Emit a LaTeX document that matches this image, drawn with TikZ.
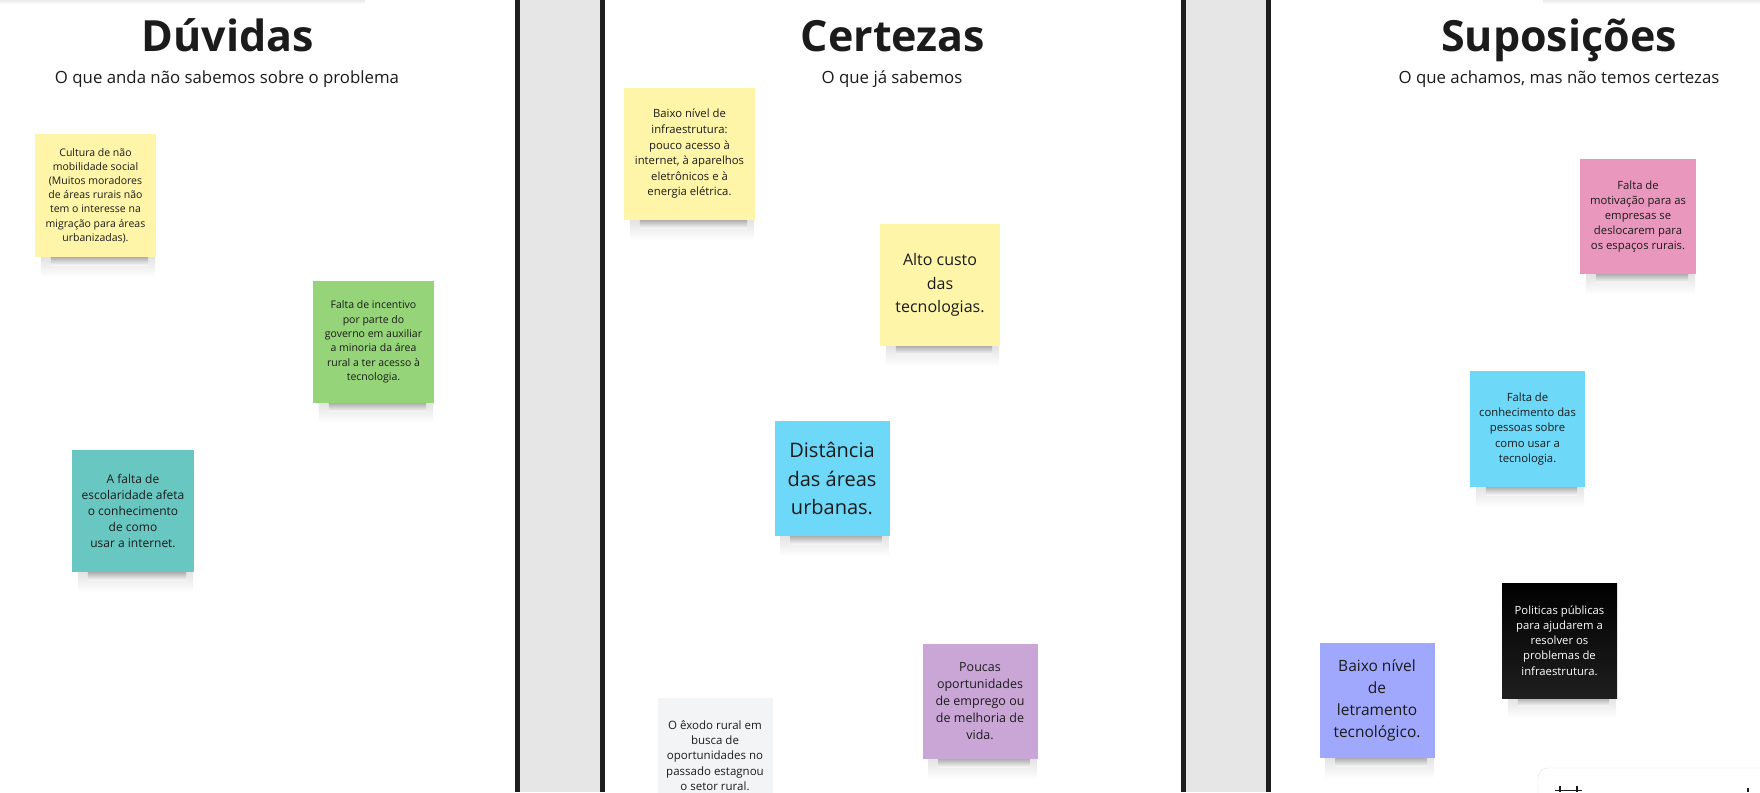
\documentclass[tikz,border=0pt]{standalone}
\usepackage{fontspec}
\setmainfont{Open Sans}
\usepackage{tikz}
\usetikzlibrary{backgrounds}

\definecolor{board}{HTML}{E6E6E6}
\definecolor{frame}{HTML}{1E1E1E}
\definecolor{ink}{HTML}{1B1B1B}
\definecolor{noteyellow}{HTML}{FEF5A8}
\definecolor{notegreen}{HTML}{95D478}
\definecolor{noteteal}{HTML}{69C7C1}
\definecolor{noteblue}{HTML}{6ED8F8}
\definecolor{notepurple}{HTML}{C9A6D6}
\definecolor{notegrey}{HTML}{F3F4F6}
\definecolor{notepink}{HTML}{EA97BD}
\definecolor{notelav}{HTML}{A0A8FE}

\begin{document}
\begin{tikzpicture}[x=1pt,y=-1pt,inner sep=0pt]
  \tikzstyle{note}=[rectangle,align=center,text=ink,minimum width=115,minimum height=115]
  \tikzstyle{title}=[anchor=base,text=ink,font=\fontsize{43}{50}\selectfont\bfseries]
  \tikzstyle{subtitle}=[anchor=base,text=ink,font=\fontsize{16.8}{20}\selectfont]
  \tikzstyle{small}=[font=\fontsize{11.3}{15.2}\selectfont]

  \useasboundingbox (0,0) rectangle (1760,792);

  % columns
  \fill[board] (520,0) rectangle (600,792);
  \fill[board] (1186,0) rectangle (1266,792);
  \foreach \x in {515,600,1181,1266}
    \fill[frame] (\x,0) rectangle (\x+5,792);
  \shade[top color=black!8,bottom color=white] (0,0) rectangle (365,4);
  \shade[top color=black!8,bottom color=white] (1543,0) rectangle (1760,4);

  % headers
  \node[title] (duv) at (228,52) {Dúvidas};
  \node[subtitle] (duvsub) at (227,83) {O que anda não sabemos sobre o problema};
  \node[title] (cert) at (893,52) {Certezas};
  \node[subtitle] (certsub) at (892,83) {O que já sabemos};
  \node[title] (sup) at (1559,52) {Suposições};
  \node[subtitle] (supsub) at (1559,83) {O que achamos, mas não temos certezas};

  % Duvidas
  \node[note,fill=noteyellow,minimum width=121,minimum height=123,font=\fontsize{10.5}{14.2}\selectfont]
    (cultura) at (95.5,195.5) {Cultura de não\\mobilidade social\\(Muitos moradores\\de áreas rurais não\\tem o interesse na\\migração para áreas\\urbanizadas).};
  \node[note,fill=notegreen,minimum width=121,minimum height=122,font=\fontsize{10.5}{14.3}\selectfont]
    (incentivo) at (373.5,342) {Falta de incentivo\\por parte do\\governo em auxiliar\\a minoria da área\\rural a ter acesso à\\tecnologia.};
  \node[note,fill=noteteal,minimum width=122,minimum height=122,font=\fontsize{12}{16.2}\selectfont]
    (escola) at (133,511) {A falta de\\escolaridade afeta\\o conhecimento\\de como\\usar a internet.};

  % Certezas
  \node[note,fill=noteyellow,minimum width=131,minimum height=132,font=\fontsize{11.3}{15.6}\selectfont]
    (infra) at (689.5,154) {Baixo nível de\\infraestrutura:\\pouco acesso à\\internet, à aparelhos\\eletrônicos e à\\energia elétrica.};
  \node[note,fill=noteyellow,minimum width=120,minimum height=122,font=\fontsize{16}{23.2}\selectfont]
    (custo) at (940,285) {Alto custo\\das\\tecnologias.};
  \node[note,fill=noteblue,font=\fontsize{20}{28.7}\selectfont]
    (distancia) at (832,478.5) {Distância\\das áreas\\urbanas.};
  \node[note,fill=notepurple,font=\fontsize{12.5}{17}\selectfont]
    (poucas) at (980,701.5) {Poucas\\oportunidades\\de emprego ou\\de melhoria de\\vida.};
  \node[note,fill=notegrey,font=\fontsize{11.5}{15.3}\selectfont]
    (exodo) at (715,755.5) {O êxodo rural em\\busca de\\oportunidades no\\passado estagnou\\o setor rural.};

  % Suposicoes
  \node[note,fill=notepink,small,minimum width=116]
    (motivacao) at (1638,216.5) {Falta de\\motivação para as\\empresas se\\deslocarem para\\os espaços rurais.};
  \node[note,fill=noteblue,small,minimum height=116]
    (conhecimento) at (1527.5,429) {Falta de\\conhecimento das\\pessoas sobre\\como usar a\\tecnologia.};
  \node[note,top color=black,bottom color=black!88,small,text=white]
    (politicas) at (1559.5,640.5) {Politicas públicas\\para ajudarem a\\resolver os\\problemas de\\infraestrutura.};
  \node[note,fill=notelav,font=\fontsize{15.5}{22}\selectfont]
    (letramento) at (1377,700.5) {Baixo nível\\de\\letramento\\tecnológico.};

  % shadows under the notes
  \begin{scope}[on background layer]
    \fill[white] (0,0) rectangle (1760,792);
    \foreach \n in {cultura,incentivo,escola,infra,custo,distancia,poucas,motivacao,conhecimento,politicas,letramento}{
      \shade[top color=black!12,bottom color=white]
        ([xshift=6pt,yshift=2pt]\n.south west) rectangle ([xshift=-1pt,yshift=-20pt]\n.south east);
      \shade[top color=black!38,bottom color=black!3]
        ([xshift=16pt,yshift=2pt]\n.south west) rectangle ([xshift=-8pt,yshift=-8pt]\n.south east);
    }
  \end{scope}

  % corner widget
  \draw[draw=black!12,fill=white,rounded corners=10] (1538,768) rectangle (1780,815);
  \draw[ink,line width=1.6] (1555,790.5) -- (1582,790.5);
  \draw[ink,line width=1.6] (1560,786) -- (1560,792) (1577,786) -- (1577,792);
  \draw[ink,line width=1.2] (1748,788) -- (1748,792);
\end{tikzpicture}
\end{document}
